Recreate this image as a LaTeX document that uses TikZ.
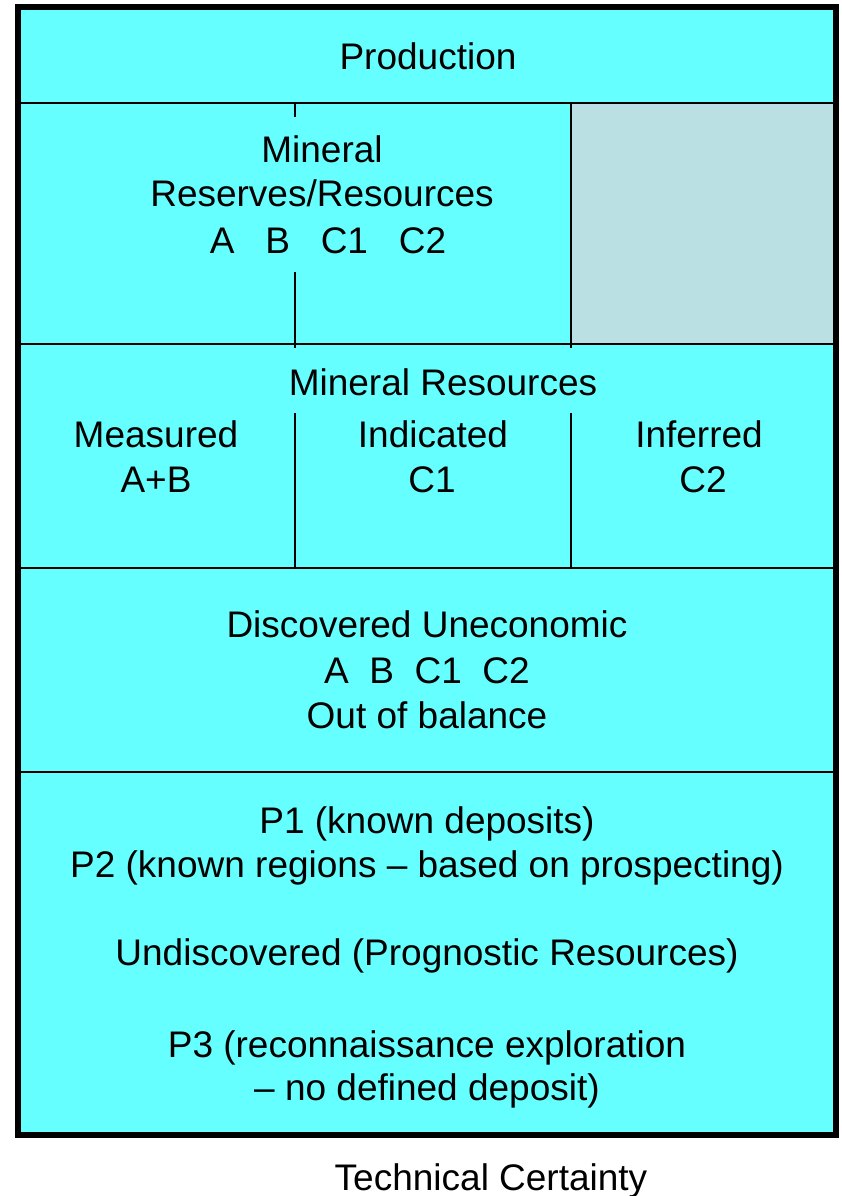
\documentclass[tikz,border=0pt]{standalone}
\usepackage{fontspec}
\setmainfont{Liberation Sans}
\definecolor{cellcyan}{HTML}{66FFFF}
\definecolor{cellgray}{HTML}{BBE0E3}
\begin{document}
\begin{tikzpicture}[x=1pt,y=-1pt,
  lbl/.style={anchor=base, inner sep=0pt, font=\fontsize{37}{44}\selectfont},
  hrule/.style={line width=2.5pt},
  vrule/.style={line width=2pt},
  frame/.style={line width=6pt}]
\useasboundingbox (0,0) rectangle (841,1196);
\fill[white] (0,0) rectangle (841,1196);
% cells
\fill[cellcyan] (18,7) rectangle (836,1135);
\fill[cellgray] (571,103) rectangle (833,344);
% horizontal dividers
\coordinate (h1l) at (21,103);  \coordinate (h1r) at (833,103);
\coordinate (h2l) at (21,344);  \coordinate (h2r) at (833,344);
\coordinate (h3l) at (21,568);  \coordinate (h3r) at (833,568);
\coordinate (h4l) at (21,772);  \coordinate (h4r) at (833,772);
\draw[hrule] (h1l) -- (h1r);
\draw[hrule] (h2l) -- (h2r);
\draw[hrule] (h3l) -- (h3r);
\draw[hrule] (h4l) -- (h4r);
% vertical dividers
\coordinate (v1a) at (295,103); \coordinate (v1b) at (295,117);
\coordinate (v1c) at (295,272); \coordinate (v1d) at (295,348);
\coordinate (v1e) at (295,413); \coordinate (v1f) at (295,568);
\coordinate (v2a) at (571,103); \coordinate (v2b) at (571,348);
\coordinate (v2c) at (571,413); \coordinate (v2d) at (571,568);
\draw[vrule] (v1a) -- (v1b);
\draw[vrule] (v1c) -- (v1d);
\draw[vrule] (v1e) -- (v1f);
\draw[vrule] (v2a) -- (v2b);
\draw[vrule] (v2c) -- (v2d);
% outer frame
\draw[frame] (18,7) rectangle (836,1135);
% texts
\node[lbl] (prod) at (428,70) {Production};
\node[lbl] (mr1) at (322,162) {Mineral};
\node[lbl] (mr2) at (322,206) {Reserves/Resources};
\node[lbl] (mr3) at (328,253) {A\ \ \ B\ \ \ C1\ \ \ C2};
\node[lbl] (mres) at (443,395) {Mineral Resources};
\node[lbl] (meas) at (156,447) {Measured};
\node[lbl] (measv) at (156,492) {A+B};
\node[lbl] (ind) at (433,447) {Indicated};
\node[lbl] (indv) at (432,492) {C1};
\node[lbl] (inf) at (699,447) {Inferred};
\node[lbl] (infv) at (703,492) {C2};
\node[lbl] (du1) at (427,637) {Discovered Uneconomic};
\node[lbl] (du2) at (427,683) {A\ \ B\ \ C1\ \ C2};
\node[lbl] (du3) at (427,728) {Out of balance};
\node[lbl] (p1) at (427,833) {P1 (known deposits)};
\node[lbl] (p2) at (427,877) {P2 (known regions – based on prospecting)};
\node[lbl] (und) at (427,965) {Undiscovered (Prognostic Resources)};
\node[lbl] (p3a) at (427,1057) {P3 (reconnaissance exploration};
\node[lbl] (p3b) at (427,1100) {– no defined deposit)};
\node[lbl] (tc) at (491,1190) {Technical Certainty};
\end{tikzpicture}
\end{document}
